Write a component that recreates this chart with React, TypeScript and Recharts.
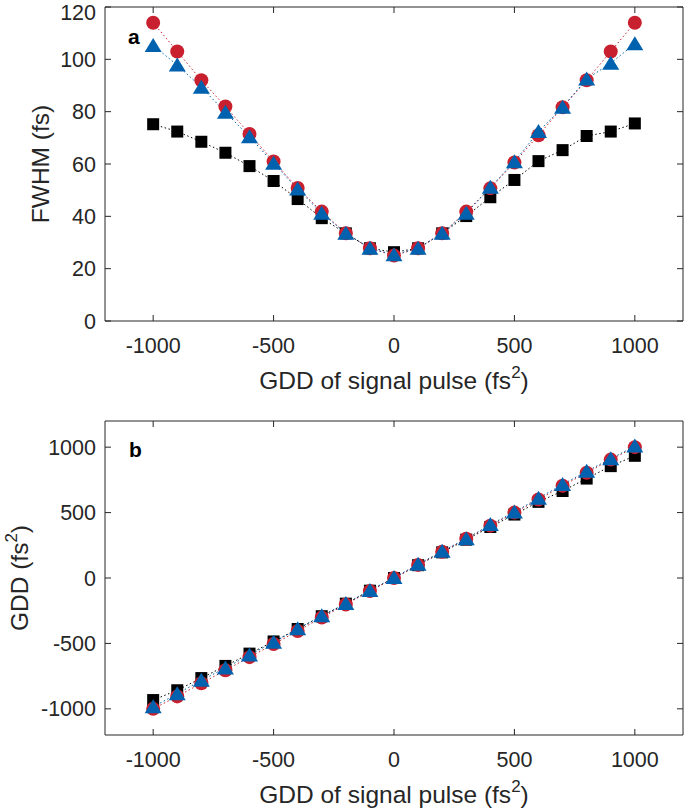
import React from 'react';
import { LineChart, Line, XAxis, YAxis, Label } from 'recharts';

// GDD of the signal pulse (fs^2), shared by both panels
const gddSignal = [-1000, -900, -800, -700, -600, -500, -400, -300, -200, -100, 0, 100, 200, 300, 400, 500, 600, 700, 800, 900, 1000];
const xTicks = [-1000, -500, 0, 500, 1000];

// panel a: FWHM (fs)
const fwhmRed = [114, 103, 92, 82, 71.5, 61, 50.8, 41.8, 33.5, 27.8, 25, 27.8, 33.5, 41.8, 50.7, 60.6, 71, 81.7, 92, 103, 114];
const fwhmBlue = [105.3, 97.8, 89.3, 79.8, 70.4, 60.3, 50.4, 41.2, 33.5, 27.8, 25.3, 27.8, 33.5, 41.2, 51.1, 60.9, 72.4, 81.7, 92.5, 98.5, 106];
const fwhmBlack = [75.2, 72.4, 68.5, 64.3, 59.2, 53.5, 46.6, 39.3, 33.5, 27.8, 26.3, 27.8, 33.5, 40.1, 47.3, 53.9, 61.1, 65.3, 70.7, 72.4, 75.5];
const fwhmTicks = [0, 20, 40, 60, 80, 100, 120];

// panel b: retrieved GDD (fs^2)
const gddRed = [-1000, -905, -805, -705, -605, -505, -405, -302, -202, -100, 0, 100, 200, 300, 400, 500, 600, 705, 805, 905, 1000];
const gddBlue = [-985, -885, -782, -688, -588, -492, -388, -288, -195, -95, 3, 105, 205, 300, 408, 505, 610, 715, 815, 912, 1008];
const gddBlack = [-933, -858, -765, -672, -578, -485, -390, -292, -196, -97, 0, 98, 196, 293, 390, 485, 582, 665, 760, 855, 934];
const gddTicks = [-1000, -500, 0, 500, 1000];

const FONT = '"Liberation Sans", Arial, Helvetica, sans-serif';
const TEXT = '#262626';
const RED = '#C9202F';
const BLUE = '#0061AE';

const rows = (red: number[], blue: number[], black: number[]) =>
    gddSignal.map((x, i) => ({ x, red: red[i], blue: blue[i], black: black[i] }));

const square = (p: any) => (
    <rect key={`sq-${p.index}`} x={p.cx - 6} y={p.cy - 6} width={12} height={12} fill="#000" />
);

const triangle = (p: any) => (
    <polygon
        key={`tr-${p.index}`}
        points={`${p.cx},${p.cy - 7.5} ${p.cx - 8.5},${p.cy + 6.5} ${p.cx + 8.5},${p.cy + 6.5}`}
        fill={BLUE}
    />
);

const xTitle = (p: any) => {
    const vb = p.viewBox || { x: 105, y: 321, width: 578 };
    return (
        <text x={vb.x + vb.width / 2} y={vb.y + 68} textAnchor="middle" fill={TEXT} fontSize={24.5} fontFamily={FONT}>
            <tspan>GDD of signal pulse (fs</tspan>
            <tspan dy={-11} fontSize={17}>2</tspan>
            <tspan dy={11}>)</tspan>
        </text>
    );
};

const yTitle = (baseX: number, sup: boolean, text: string) => (p: any) => {
    const vb = p.viewBox || { x: 0, y: 7, height: 314 };
    const cy = vb.y + vb.height / 2;
    return (
        <text
            x={baseX}
            y={cy}
            transform={`rotate(-90, ${baseX}, ${cy})`}
            textAnchor="middle"
            fill={TEXT}
            fontSize={24.5}
            fontFamily={FONT}
        >
            <tspan>{text}</tspan>
            {sup && <tspan dy={-11} fontSize={17}>2</tspan>}
            {sup && <tspan dy={11}>)</tspan>}
        </text>
    );
};

interface PanelProps {
    data: { x: number; red: number; blue: number; black: number }[];
    height: number;
    xAxisHeight: number;
    yDomain: [number, number];
    yTicks: number[];
    yLabel: (p: any) => React.ReactElement;
}

const axisStroke = { stroke: TEXT, strokeWidth: 1 };
const tickFont = { fill: TEXT, fontSize: 21.5, fontFamily: FONT };
const noLabel = () => '';

const Panel: React.FC<PanelProps> = ({ data, height, xAxisHeight, yDomain, yTicks, yLabel }) => (
    <LineChart width={685} height={height} data={data} margin={{ top: 6, right: 1, bottom: 0, left: 0 }}>
        <XAxis
            dataKey="x"
            type="number"
            domain={[-1200, 1200]}
            ticks={xTicks}
            allowDataOverflow
            height={xAxisHeight}
            axisLine={axisStroke}
            tickLine={axisStroke}
            tickSize={-6}
            tickMargin={23}
            tick={tickFont}
        >
            <Label content={xTitle} />
        </XAxis>
        <XAxis
            xAxisId="top"
            orientation="top"
            dataKey="x"
            type="number"
            domain={[-1200, 1200]}
            ticks={xTicks}
            allowDataOverflow
            height={1}
            axisLine={axisStroke}
            tickLine={axisStroke}
            tickSize={-6}
            tickFormatter={noLabel}
        />
        <YAxis
            type="number"
            domain={yDomain}
            ticks={yTicks}
            allowDataOverflow
            width={105}
            axisLine={axisStroke}
            tickLine={axisStroke}
            tickSize={-6}
            tickMargin={15}
            tick={tickFont}
        >
            <Label content={yLabel} />
        </YAxis>
        <YAxis
            yAxisId="r"
            orientation="right"
            type="number"
            domain={yDomain}
            ticks={yTicks}
            allowDataOverflow
            width={1}
            axisLine={axisStroke}
            tickLine={axisStroke}
            tickSize={-6}
            tickFormatter={noLabel}
        />
        {/* invisible series so the mirrored box axes are drawn */}
        <Line xAxisId="top" yAxisId="r" dataKey="black" stroke="none" dot={false} activeDot={false} isAnimationActive={false} />
        <Line dataKey="black" stroke="#000" strokeWidth={1} strokeDasharray="1.5 2.5" dot={square} activeDot={false} isAnimationActive={false} />
        <Line dataKey="red" stroke={RED} strokeWidth={1} strokeDasharray="1.5 2.5" dot={{ r: 7, fill: RED, stroke: RED, strokeWidth: 0 }} activeDot={false} isAnimationActive={false} />
        <Line dataKey="blue" stroke={BLUE} strokeWidth={1} strokeDasharray="1.5 2.5" dot={triangle} activeDot={false} isAnimationActive={false} />
    </LineChart>
);

const panelLetter: React.CSSProperties = {
    position: 'absolute',
    fontFamily: FONT,
    fontWeight: 'bold',
    fontSize: 21,
    color: '#000',
    lineHeight: 1,
};

export default function App() {
    return (
        <div style={{ position: 'fixed', left: 0, top: 0, width: 685, height: 811, overflow: 'hidden', background: '#fff' }}>
            <div style={{ position: 'absolute', left: 0, top: 0 }}>
                <Panel
                    data={rows(fwhmRed, fwhmBlue, fwhmBlack)}
                    height={405}
                    xAxisHeight={84}
                    yDomain={[0, 120]}
                    yTicks={fwhmTicks}
                    yLabel={yTitle(49, false, 'FWHM (fs)')}
                />
            </div>
            <div style={{ position: 'absolute', left: 0, top: 414 }}>
                <Panel
                    data={rows(gddRed, gddBlue, gddBlack)}
                    height={397}
                    xAxisHeight={76}
                    yDomain={[-1200, 1200]}
                    yTicks={gddTicks}
                    yLabel={yTitle(28, true, 'GDD (fs')}
                />
            </div>
            <div style={{ ...panelLetter, left: 128, top: 26 }}>a</div>
            <div style={{ ...panelLetter, left: 129, top: 439 }}>b</div>
        </div>
    );
}
